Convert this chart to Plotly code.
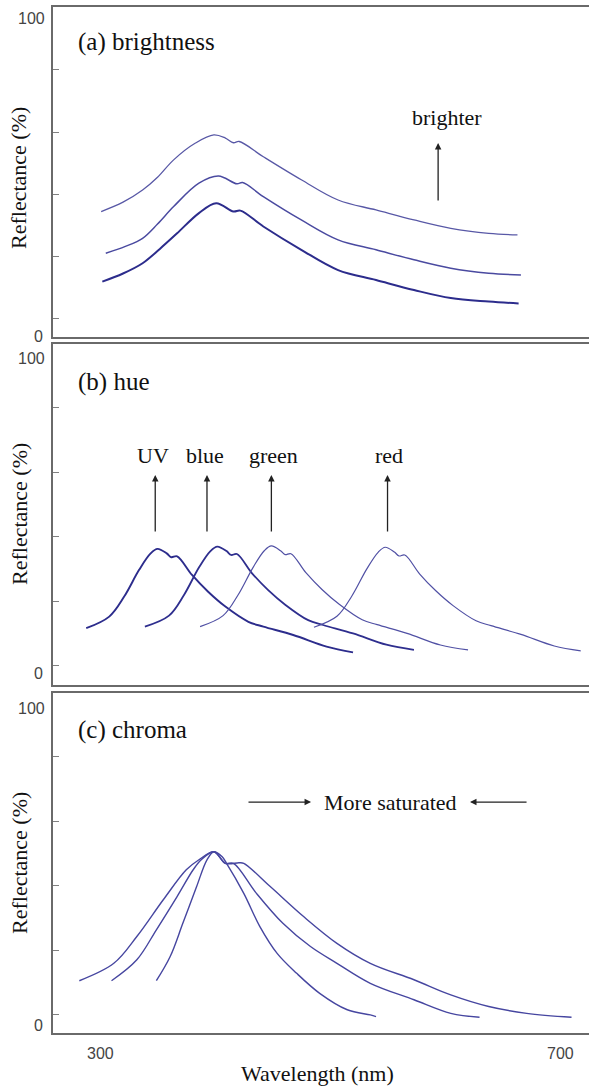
import plotly.graph_objects as go

# ---------------- data (wavelength nm, reflectance %) ----------------
# (a) brightness
a_top_nm = [301, 320, 337, 350, 364, 383, 399, 409, 416, 421, 442, 475, 507, 540, 573, 605, 638, 663]
a_top_r = [34.5, 37.5, 41.4, 45.5, 51.1, 56.5, 59.1, 58.1, 56.6, 57.0, 52.1, 44.7, 38.2, 35.0, 31.8, 29.1, 27.5, 27.0]
a_mid_nm = [305, 322, 337, 350, 364, 386, 403, 419, 424, 442, 475, 507, 540, 573, 605, 638, 666]
a_mid_r = [21.1, 23.3, 25.9, 30.5, 36.1, 43.6, 45.9, 43.4, 43.8, 39.3, 31.8, 25.4, 22.2, 19.0, 16.3, 14.7, 14.1]
a_low_nm = [302, 320, 337, 352, 367, 386, 401, 416, 422, 442, 475, 507, 540, 573, 605, 638, 664]
a_low_r = [12.0, 14.6, 17.9, 22.5, 27.5, 34.0, 37.2, 34.5, 34.8, 29.7, 22.2, 15.7, 12.5, 9.3, 6.7, 5.6, 5.0]

# (b) hue
uv_nm = [288, 308, 321, 334, 344, 350, 358, 362, 367, 380, 394, 409, 429, 442, 468, 497, 520]
uv_r = [11.7, 15.3, 21.5, 29.8, 34.9, 36.3, 34.9, 33.7, 34.0, 28.2, 23.0, 18.4, 13.7, 12.2, 9.6, 6.0, 4.2]
blue_nm = [339, 360, 373, 386, 396, 402, 410, 414, 419, 432, 446, 461, 481, 494, 520, 549, 573]
blue_r = [12.2, 15.6, 22.0, 30.5, 35.6, 37.0, 35.6, 34.4, 34.7, 28.8, 23.6, 19.0, 14.2, 12.7, 10.1, 6.6, 5.0]
green_nm = [387, 407, 420, 433, 443, 449, 457, 461, 466, 479, 493, 508, 528, 541, 567, 596, 620]
green_r = [12.2, 15.6, 22.0, 30.5, 35.8, 37.2, 35.7, 34.5, 34.8, 28.9, 23.7, 19.1, 14.3, 12.8, 10.1, 6.5, 5.0]
red_nm = [486, 506, 519, 532, 542, 548, 556, 560, 565, 578, 592, 607, 627, 640, 666, 695, 718]
red_r = [12.0, 15.4, 21.7, 30.1, 35.3, 36.8, 35.3, 34.1, 34.4, 28.5, 23.3, 18.7, 14.0, 12.5, 9.8, 6.2, 4.7]

# (c) chroma
c_wide_nm = [282, 312, 332, 355, 375, 386, 399, 409, 421, 425, 448, 477, 506, 535, 573, 605, 638, 671, 710]
c_wide_r = [10.6, 16.0, 24.3, 35.7, 45.0, 48.1, 50.6, 47.0, 47.2, 47.0, 39.8, 30.5, 22.2, 16.0, 10.9, 6.2, 2.6, 0.5, -0.7]
c_mid_nm = [310, 332, 349, 367, 381, 388, 399, 409, 416, 436, 459, 483, 506, 535, 573, 605, 630]
c_mid_r = [10.6, 17.1, 26.4, 36.7, 45.0, 48.1, 50.6, 47.0, 47.0, 37.7, 28.4, 21.2, 16.0, 9.8, 4.7, 0.5, -0.7]
c_nar_nm = [349, 361, 372, 384, 393, 399, 406, 410, 425, 439, 454, 471, 491, 515, 535, 540]
c_nar_r = [10.6, 18.1, 28.4, 39.8, 48.1, 50.6, 49.1, 47.0, 37.7, 27.4, 19.1, 12.9, 6.7, 1.6, 0.0, -0.5]

hue_labels = ["UV", "blue", "green", "red"]
hue_label_nm = [346, 391, 451, 551]
hue_arrow_nm = [348, 393, 449, 550]

y_ticks = [0, 20, 40, 60, 80]
x_tick_labels = ["300", "700"]
x_tick_vals = [300, 700]

# ---------------- figure ----------------
W, H = 589, 1088
fig = go.Figure()

LINE = "#6a6a6a"
SERIF = "Liberation Serif, Times New Roman, serif"
SANS = "Liberation Sans, Arial, sans-serif"
TXT = "#111111"


def add(x, y, ax, color, width):
    fig.add_trace(go.Scatter(
        x=x, y=y, mode="lines", xaxis=ax[0], yaxis=ax[1],
        line=dict(color=color, width=width, shape="spline", smoothing=1.0),
        hoverinfo="skip", showlegend=False))


add(a_top_nm, a_top_r, ("x", "y"), "#5858a6", 1.3)
add(a_mid_nm, a_mid_r, ("x", "y"), "#4a4aa0", 1.5)
add(a_low_nm, a_low_r, ("x", "y"), "#2c2c8c", 2.0)

add(uv_nm, uv_r, ("x2", "y2"), "#2c2c8c", 1.9)
add(blue_nm, blue_r, ("x2", "y2"), "#2e2e8e", 1.8)
add(green_nm, green_r, ("x2", "y2"), "#5050a4", 1.2)
add(red_nm, red_r, ("x2", "y2"), "#5050a4", 1.2)

add(c_wide_nm, c_wide_r, ("x3", "y3"), "#4646a0", 1.4)
add(c_mid_nm, c_mid_r, ("x3", "y3"), "#4646a0", 1.4)
add(c_nar_nm, c_nar_r, ("x3", "y3"), "#4646a0", 1.4)

xrange_ = [259.1, 725.2]
xdom = [53 / W, 1.0]


def ydom(top_px, bot_px):
    return [1 - bot_px / H, 1 - top_px / H]


panels = [
    ("", "", 7, 337, [-5.8, 100.2]),
    ("2", "2", 344, 685, [-5.9, 99.8]),
    ("3", "3", 693, 1033, [-5.6, 99.8]),
]

for xs, ys, top_px, bot_px, yr in panels:
    fig.layout["xaxis" + xs] = dict(
        domain=xdom, range=xrange_, anchor="y" + ys,
        showline=True, linecolor=LINE, linewidth=2, mirror=True,
        showgrid=False, zeroline=False, ticks="", showticklabels=False,
        fixedrange=True)
    fig.layout["yaxis" + ys] = dict(
        domain=ydom(top_px, bot_px), range=yr, anchor="x" + xs,
        showline=True, linecolor=LINE, linewidth=2, mirror=False,
        showgrid=False, zeroline=False,
        tickmode="array", tickvals=y_ticks, ticks="inside", ticklen=6,
        tickwidth=1, tickcolor="#808080", showticklabels=False,
        fixedrange=True)

ann = []
# y tick labels "100" / "0" and axis titles
for top_px, bot_px, lab100_px, lab0_px, title_px in [
        (7, 337, 18, 336, 178), (344, 685, 358, 673, 514), (693, 1033, 708, 1025, 863)]:
    ann.append(dict(text="100", x=47 / W, y=1 - lab100_px / H, xref="paper", yref="paper",
                    xanchor="right", yanchor="middle", showarrow=False,
                    font=dict(family=SANS, size=16, color="#444")))
    ann.append(dict(text="0", x=45 / W, y=1 - lab0_px / H, xref="paper", yref="paper",
                    xanchor="right", yanchor="middle", showarrow=False,
                    font=dict(family=SANS, size=16, color="#444")))
    ann.append(dict(text="Reflectance (%)", x=19 / W, y=1 - title_px / H,
                    xref="paper", yref="paper", xanchor="center", yanchor="middle",
                    textangle=-90, showarrow=False,
                    font=dict(family=SERIF, size=22, color=TXT)))

# x tick labels and title (bottom panel)
for lab, v in zip(x_tick_labels, x_tick_vals):
    ann.append(dict(text=lab, x=v, y=1 - 1053 / H, xref="x3", yref="paper",
                    xanchor="center", yanchor="middle", showarrow=False,
                    font=dict(family=SANS, size=16, color="#444")))
ann.append(dict(text="Wavelength (nm)", x=317 / W, y=1 - 1073 / H, xref="paper", yref="paper",
                xanchor="center", yanchor="middle", showarrow=False,
                font=dict(family=SERIF, size=22, color=TXT)))

# panel titles
for txt, xr, yr_, y in [("(a) brightness", "x", "y", 89.0),
                        ("(b) hue", "x2", "y2", 88.0),
                        ("(c) chroma", "x3", "y3", 88.4)]:
    ann.append(dict(text=txt, x=279, y=y, xref=xr, yref=yr_, xanchor="left",
                    yanchor="middle", showarrow=False,
                    font=dict(family=SERIF, size=25, color=TXT)))

# (a) brighter arrow
ann.append(dict(text="brighter", x=602, y=64.6, xref="x", yref="y", showarrow=False,
                xanchor="center", yanchor="middle", font=dict(family=SERIF, size=22, color=TXT)))
ann.append(dict(text="", x=594, y=56.5, ax=594, ay=37.6, xref="x", yref="y",
                axref="x", ayref="y", showarrow=True, arrowhead=2, arrowsize=1,
                arrowwidth=1.3, arrowcolor="#222"))

# (b) hue arrows
for lab, lx, axx in zip(hue_labels, hue_label_nm, hue_arrow_nm):
    ann.append(dict(text=lab, x=lx, y=65.1, xref="x2", yref="y2", showarrow=False,
                    xanchor="center", yanchor="middle",
                    font=dict(family=SERIF, size=22, color=TXT)))
    ann.append(dict(text="", x=axx, y=59.2, ax=axx, ay=41.2, xref="x2", yref="y2",
                    axref="x2", ayref="y2", showarrow=True, arrowhead=2, arrowsize=1,
                    arrowwidth=1.3, arrowcolor="#222"))

# (c) more saturated
ann.append(dict(text="More saturated", x=553, y=66.0, xref="x3", yref="y3", showarrow=False,
                xanchor="center", yanchor="middle",
                font=dict(family=SERIF, size=22, color=TXT)))
ann.append(dict(text="", x=483.5, y=66.0, ax=427.8, ay=66.0, xref="x3", yref="y3",
                axref="x3", ayref="y3", showarrow=True, arrowhead=2, arrowsize=1,
                arrowwidth=1.3, arrowcolor="#222"))
ann.append(dict(text="", x=621.7, y=66.0, ax=672.2, ay=66.0, xref="x3", yref="y3",
                axref="x3", ayref="y3", showarrow=True, arrowhead=2, arrowsize=1,
                arrowwidth=1.3, arrowcolor="#222"))

fig.update_layout(
    width=W, height=H, margin=dict(l=0, r=0, t=0, b=0),
    paper_bgcolor="white", plot_bgcolor="white",
    showlegend=False, annotations=ann)

fig.write_html("out.html", config={"displayModeBar": False})
